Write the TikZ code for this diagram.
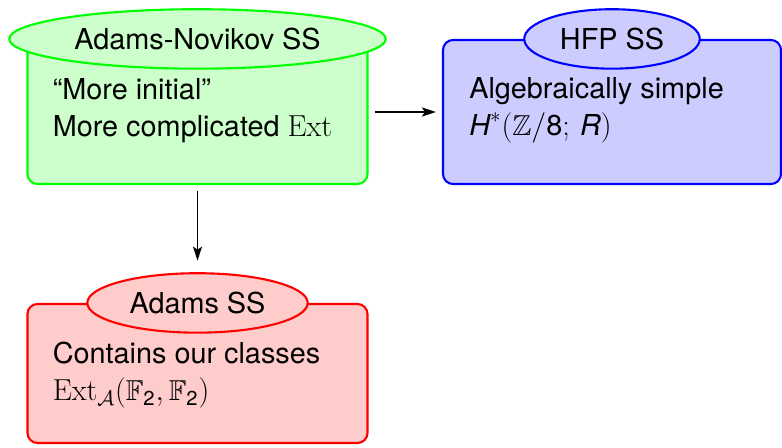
\documentclass[tikz,border=0pt]{standalone}
\usepackage{amsmath,amssymb}
\usepackage[no-math]{fontspec}
\setmainfont{TeX Gyre Heros}
\usetikzlibrary{shapes.geometric,arrows.meta,positioning}

\tikzset{
	ssbox/.style={rounded corners=0.2cm, line width=1.2pt, minimum width=6.8cm, minimum height=2.88cm},
	sstitle/.style={ellipse, draw, line width=1.2pt, inner sep=0.2cm},
	sstext/.style={anchor=base west, inner sep=0pt},
	link/.style={-{Stealth[length=0.28cm,width=0.18cm,inset=0.06cm]}, line width=1pt, shorten <=0.12cm, shorten >=0.12cm}
}
% two left-aligned lines, baseline on the first one
\newcommand{\twolines}[2]{\begin{tabular}[t]{@{}l@{}}#1\\#2\end{tabular}}

\begin{document}
\begin{tikzpicture}[font=\fontsize{16.4}{20.8}\selectfont]
		\useasboundingbox (0,0) rectangle (15.64,8.94);
		% the three spectral sequences
		\node[ssbox, draw=green, fill=green!20] (an) at (3.95,6.70) {};
		\node[ssbox, draw=blue, fill=blue!20, minimum width=6.76cm] (hfp) at (12.24,6.70) {};
		\node[ssbox, draw=red, fill=red!20, minimum height=2.78cm] (adams) at (3.95,1.47) {};
		% titles sit on the top edge
		\node[sstitle, draw=green, fill=green!20] (antitle) at (an.north) {Adams-Novikov SS};
		\node[sstitle, draw=blue, fill=blue!20] (hfptitle) at (hfp.north) {HFP SS};
		\node[sstitle, draw=red, fill=red!20] (adamstitle) at (adams.north) {Adams SS};
		% contents
		\node[sstext] (antext) at ([xshift=0.52cm, yshift=-1.22cm]an.north west)
			{\twolines{``More initial''}{More complicated $\mathrm{Ext}$}};
		\node[sstext] (hfptext) at ([xshift=0.54cm, yshift=-1.2cm]hfp.north west)
			{\twolines{Algebraically simple}{$\textit{H}^*(\mathbb{Z}/\text{8};\, \textit{R})$}};
		\node[sstext] (adamstext) at ([xshift=0.52cm, yshift=-1.22cm]adams.north west)
			{\twolines{Contains our classes}{$\mathrm{Ext}_{\mathcal{A}}(\mathbb{F}_{\text{2}}, \mathbb{F}_{\text{2}})$}};
		% maps between them
		\draw[link] (an.east) -- (hfp.west);
		\draw[link, shorten >=0.23cm] (an.south) -- (adamstitle.north);
	\end{tikzpicture}
\end{document}
